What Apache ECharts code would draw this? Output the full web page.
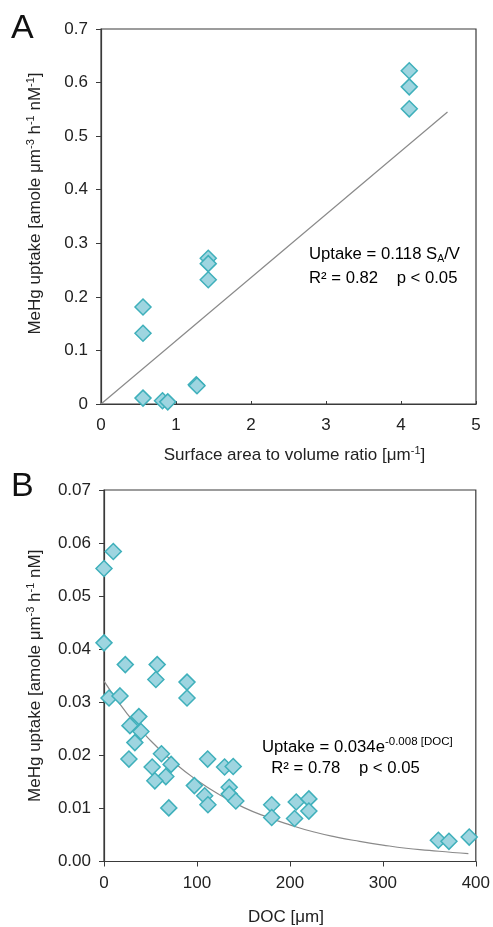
<!DOCTYPE html>
<html>
<head>
<meta charset="utf-8">
<script src="https://cdn.jsdelivr.net/npm/echarts@6/dist/echarts.min.js"></script>
<style>
  html, body { margin: 0; padding: 0; background: #fff; }
  #chart { width: 493px; height: 927px; }
</style>
</head>
<body>
<div id="chart"></div>
<script>
// Panel A: surface area to volume ratio vs MeHg uptake
const saVolRatio = [0.56, 0.56, 0.56, 0.82, 0.89, 1.27, 1.28, 1.43, 1.43, 1.43, 4.11, 4.11, 4.11];
const uptakeA = [0.181, 0.132, 0.011, 0.006, 0.004, 0.036, 0.034, 0.272, 0.262, 0.232, 0.622, 0.592, 0.551];
// fitted line, uptake = 0.118 SA/V (endpoints)
const fitA = [[0, 0], [4.62, 0.545]];

// Panel B: DOC vs MeHg uptake
const doc = [0, 10, 0, 22.9, 57.2, 55.8, 89.3, 89.3, 5.4, 17.2, 37.5, 27.9, 39.7, 33.2, 61.8,
  26.8, 111.5, 72.2, 51.8, 129.7, 139, 66.5, 54.7, 97.2, 134.7, 108.3, 134.7, 141.8, 111.8,
  69.7, 180.4, 180.4, 206.8, 205, 220.4, 220.4, 359.7, 371.1, 392.9];
const uptakeB = [0.0552, 0.0584, 0.0412, 0.0371, 0.0371, 0.0343, 0.0338, 0.0308, 0.0308, 0.0312,
  0.0273, 0.0256, 0.0245, 0.0224, 0.0203, 0.0193, 0.0193, 0.0183, 0.0178, 0.0178, 0.0179,
  0.0160, 0.0152, 0.0143, 0.0140, 0.0124, 0.0127, 0.0114, 0.0107, 0.0101, 0.0107, 0.0083,
  0.0112, 0.0081, 0.0118, 0.0095, 0.0040, 0.0038, 0.0046];
// curve (uptake = 0.034 e^(-0.008 DOC))
const fitDocX = [0, 25, 50, 75, 100, 125, 150, 175, 200, 225, 250, 275, 300, 325, 350, 375, 392];
const fitDocY = [0.0340, 0.0278, 0.0228, 0.0187, 0.0153, 0.0125, 0.0102, 0.0084, 0.0069, 0.0056,
  0.0046, 0.0038, 0.0031, 0.0025, 0.0021, 0.0017, 0.0015];

const FONT = 'Liberation Sans, Arial, sans-serif';
const TXT = '#222';
const AXIS = '#3a3a3a';
const FILL = '#9ed5e0';
const EDGE = '#3fb0bb';

const chart = echarts.init(document.getElementById('chart'));

const rich = {
  n: { fontSize: 17, fontFamily: FONT, color: TXT, lineHeight: 20 },
  s: { fontSize: 11, fontFamily: FONT, color: TXT, verticalAlign: 'top', lineHeight: 20 }
};
const richAnno = {
  n: { fontSize: 16.7, fontFamily: FONT, color: TXT, lineHeight: 22 },
  sub: { fontSize: 10.5, fontFamily: FONT, color: TXT, verticalAlign: 'bottom', lineHeight: 19 },
  sup: { fontSize: 11.5, fontFamily: FONT, color: TXT, verticalAlign: 'top', lineHeight: 22 }
};

const axisCommon = {
  axisLine: { show: true, onZero: false, lineStyle: { color: AXIS, width: 1.2 } },
  splitLine: { show: false },
  axisLabel: { fontSize: 17, color: TXT, fontFamily: FONT, margin: 13 }
};

const diamond = {
  type: 'scatter',
  symbol: 'diamond',
  symbolSize: 16,
  itemStyle: { color: FILL, borderColor: EDGE, borderWidth: 1.5, opacity: 1 },
  z: 3
};

// one line of annotation text, centred vertically on y
const anno = (x, y, text) => ({
  type: 'text', x: x, y: y,
  style: { text: text, rich: richAnno, verticalAlign: 'middle' }
});

const option = {
  animation: false,
  grid: [
    { left: 101, top: 29, width: 375, height: 375, show: true, borderColor: AXIS, borderWidth: 1.2 },
    { left: 104, top: 490, width: 373, height: 373, show: true, borderColor: AXIS, borderWidth: 1.2 }
  ],
  xAxis: [
    Object.assign({}, axisCommon, {
      gridIndex: 0, type: 'value', min: 0, max: 5, interval: 1,
      axisTick: { show: true, inside: true, length: 3, lineStyle: { color: AXIS } },
      name: '{n|Surface area to volume ratio [μm}{s|-1}{n|]}',
      nameLocation: 'middle', nameGap: 41,
      nameTextStyle: { rich: rich, padding: [0, 0, 0, 12] }
    }),
    Object.assign({}, axisCommon, {
      gridIndex: 1, type: 'value', min: 0, max: 400, interval: 100,
      axisTick: { show: true, inside: false, length: 5, lineStyle: { color: AXIS } },
      name: '{n|DOC [μm]}',
      nameLocation: 'middle', nameGap: 46,
      nameTextStyle: { rich: rich, padding: [0, 8, 0, 0] }
    })
  ],
  yAxis: [
    Object.assign({}, axisCommon, {
      gridIndex: 0, type: 'value', min: 0, max: 0.7, interval: 0.1,
      axisTick: { show: true, inside: false, length: 5, lineStyle: { color: AXIS } },
      axisLabel: Object.assign({}, axisCommon.axisLabel, {
        formatter: v => v === 0 ? '0' : v.toFixed(1)
      }),
      name: '{n|MeHg uptake [amole μm}{s|-3}{n| h}{s|-1}{n| nM}{s|-1}{n|]}',
      nameLocation: 'middle', nameGap: 56, nameRotate: 90,
      nameTextStyle: { rich: rich, padding: [0, 0, 0, 26] }
    }),
    Object.assign({}, axisCommon, {
      gridIndex: 1, type: 'value', min: 0, max: 0.07, interval: 0.01,
      axisTick: { show: true, inside: false, length: 5, lineStyle: { color: AXIS } },
      axisLabel: Object.assign({}, axisCommon.axisLabel, {
        formatter: v => v.toFixed(2)
      }),
      name: '{n|MeHg uptake [amole μm}{s|-3}{n| h}{s|-1}{n| nM]}',
      nameLocation: 'middle', nameGap: 59, nameRotate: 90,
      nameTextStyle: { rich: rich, padding: [0, 0, 0, 0] }
    })
  ],
  series: [
    {
      type: 'line', xAxisIndex: 0, yAxisIndex: 0,
      data: fitA, symbol: 'none',
      lineStyle: { color: '#8a8a8a', width: 1.2 }, z: 2
    },
    Object.assign({}, diamond, {
      xAxisIndex: 0, yAxisIndex: 0,
      data: saVolRatio.map((x, i) => [x, uptakeA[i]])
    }),
    {
      type: 'line', xAxisIndex: 1, yAxisIndex: 1,
      data: fitDocX.map((x, i) => [x, fitDocY[i]]), symbol: 'none', smooth: true,
      lineStyle: { color: '#8a8a8a', width: 1.2 }, z: 2
    },
    Object.assign({}, diamond, {
      xAxisIndex: 1, yAxisIndex: 1,
      data: doc.map((x, i) => [x, uptakeB[i]])
    })
  ],
  graphic: [
    { type: 'text', left: 11, top: 12, style: { text: 'A', fontSize: 34, fontFamily: FONT, fill: '#111' } },
    { type: 'text', left: 11, top: 470, style: { text: 'B', fontSize: 34, fontFamily: FONT, fill: '#111' } },
    anno(309, 254, '{n|Uptake = 0.118 S}{sub|A}{n|/V}'),
    anno(309, 278, '{n|R² = 0.82    p < 0.05}'),
    anno(262, 747, '{n|Uptake = 0.034e}{sup|-0.008 [DOC]}'),
    anno(262, 768, '{n|  R² = 0.78    p < 0.05}')
  ]
};

chart.setOption(option);
</script>
</body>
</html>
